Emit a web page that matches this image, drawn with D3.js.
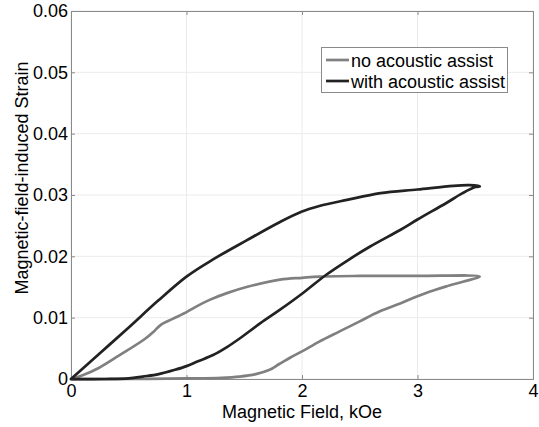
<!DOCTYPE html>
<html>
<head>
<meta charset="utf-8">
<script src="https://cdn.jsdelivr.net/npm/d3@7/dist/d3.min.js"></script>
<style>
  html, body { margin: 0; padding: 0; background: #fff; }
  svg { display: block; font-family: "Liberation Sans", Arial, Helvetica, sans-serif; }
</style>
</head>
<body>
<svg id="chart" width="539" height="427"></svg>
<script>
// ---- Data ----
const xTicks = [0, 1, 2, 3, 4];
const yTicks = [0, 0.01, 0.02, 0.03, 0.04, 0.05, 0.06];
const yTickLabels = ["0", "0.01", "0.02", "0.03", "0.04", "0.05", "0.06"];
const seriesNames = ["no acoustic assist", "with acoustic assist"];

// no acoustic assist: loading branch then unloading branch
const noAssistField = [0, 0.5, 1.0, 1.3, 1.46, 1.6, 1.72, 1.8, 1.9, 2.0, 2.15, 2.33, 2.5, 2.67, 2.85, 3.0, 3.15, 3.25, 3.4, 3.54,
  3.0, 2.5, 2.15, 2.0, 1.81, 1.52, 1.35, 1.2, 1.064, 1.0, 0.88, 0.775, 0.72, 0.645, 0.414, 0.24, 0.1, 0];
const noAssistStrain = [0, 0, 0.0001, 0.0002, 0.0004, 0.0008, 0.0015, 0.0024, 0.0035, 0.0045, 0.0061, 0.0078, 0.0094, 0.011, 0.0123, 0.0135, 0.0145, 0.0151, 0.0159, 0.0167,
  0.0168, 0.0168, 0.0167, 0.0165, 0.0162, 0.0150, 0.0140, 0.0129, 0.0116, 0.0109, 0.0098, 0.0088, 0.0078, 0.0066, 0.0038, 0.0018, 0.0006, 0];

// with acoustic assist: loading branch then unloading branch
const withAssistField = [0, 0.3, 0.5, 0.62, 0.76, 0.9, 1.0, 1.1, 1.23, 1.35, 1.46, 1.64, 1.81, 2.0, 2.21, 2.4, 2.59, 2.85, 3.0, 3.25, 3.39, 3.5, 3.54,
  3.45, 3.31, 3.0, 2.68, 2.39, 2.15, 2.0, 1.81, 1.52, 1.23, 1.0, 0.75, 0.5, 0.25, 0];
const withAssistStrain = [0, 0, 0.0001, 0.0004, 0.0008, 0.0015, 0.0021, 0.0029, 0.0039, 0.0052, 0.0066, 0.0091, 0.0113, 0.0139, 0.0170, 0.0194, 0.0216, 0.0243, 0.0260, 0.0287, 0.0303, 0.0313, 0.0314,
  0.0316, 0.0315, 0.0309, 0.0303, 0.0292, 0.0282, 0.0273, 0.0256, 0.0226, 0.0195, 0.0167, 0.0127, 0.0084, 0.0042, 0];

const seriesColors = ["#808080", "#222222"];

// ---- Layout ----
const svg = d3.select("#chart");
const plotL = 71, plotR = 533, plotT = 11, plotB = 379;
const x = d3.scaleLinear().domain([0, 4]).range([plotL, plotR]);
const y = d3.scaleLinear().domain([0, 0.06]).range([plotB, plotT]);
const fontSize = 18;

// grid
const grid = svg.append("g");
grid.selectAll("line.gx").data(xTicks).join("line")
  .attr("x1", d => x(d)).attr("x2", d => x(d)).attr("y1", plotT).attr("y2", plotB)
  .attr("stroke", "#ebebeb").attr("stroke-width", 1);
grid.selectAll("line.gy").data(yTicks).join("line")
  .attr("y1", d => y(d)).attr("y2", d => y(d)).attr("x1", plotL).attr("x2", plotR)
  .attr("stroke", "#ebebeb").attr("stroke-width", 1);

// axes
const axisColor = "#8a8a8a";
const xAxis = svg.append("g").attr("transform", `translate(0,${plotB})`)
  .call(d3.axisBottom(x).tickValues(xTicks).tickSize(-4).tickPadding(5).tickFormat(d3.format("d")));
const yAxis = svg.append("g").attr("transform", `translate(${plotL},0)`)
  .call(d3.axisLeft(y).tickValues(yTicks).tickSize(-4).tickPadding(3).tickFormat((d, i) => yTickLabels[i]));
const xAxisTop = svg.append("g").attr("transform", `translate(0,${plotT})`)
  .call(d3.axisTop(x).tickValues(xTicks).tickSize(-4).tickFormat(""));
const yAxisRight = svg.append("g").attr("transform", `translate(${plotR},0)`)
  .call(d3.axisRight(y).tickValues(yTicks).tickSize(-4).tickFormat(""));
[xAxis, yAxis, xAxisTop, yAxisRight].forEach(g => {
  g.select(".domain").attr("stroke", axisColor).attr("stroke-width", 1);
  g.selectAll(".tick line").attr("stroke", axisColor);
  g.selectAll("text").attr("fill", "#000").style("font-size", fontSize + "px")
    .style("font-family", '"Liberation Sans", Arial, sans-serif');
});

// series lines
const lineGen = d3.line().x(d => x(d[0])).y(d => y(d[1])).curve(d3.curveCatmullRom.alpha(0.5));
const series = [
  d3.zip(noAssistField, noAssistStrain),
  d3.zip(withAssistField, withAssistStrain)
];
svg.append("g").selectAll("path").data(series).join("path")
  .attr("d", lineGen)
  .attr("fill", "none")
  .attr("stroke", (d, i) => seriesColors[i])
  .attr("stroke-width", 2.7)
  .attr("stroke-linejoin", "round")
  .attr("stroke-linecap", "round");

// axis titles
svg.append("text").attr("x", (plotL + plotR) / 2).attr("y", 418)
  .attr("text-anchor", "middle").style("font-size", fontSize + "px").text("Magnetic Field, kOe");
svg.append("text").attr("transform", `translate(28,178) rotate(-90)`)
  .attr("text-anchor", "middle").style("font-size", fontSize + "px").text("Magnetic-field-induced Strain");

// legend
const legend = svg.append("g");
legend.append("rect").attr("x", 321.5).attr("y", 47.5).attr("width", 186).attr("height", 45)
  .attr("fill", "#fff").attr("stroke", "#8a8a8a").attr("stroke-width", 1);
seriesNames.forEach((name, i) => {
  const ly = 60 + i * 21;
  legend.append("line").attr("x1", 326).attr("x2", 349).attr("y1", ly).attr("y2", ly)
    .attr("stroke", seriesColors[i]).attr("stroke-width", 2.7);
  legend.append("text").attr("x", 351).attr("y", ly + 6.5).style("font-size", fontSize + "px").text(name);
});
</script>
</body>
</html>
